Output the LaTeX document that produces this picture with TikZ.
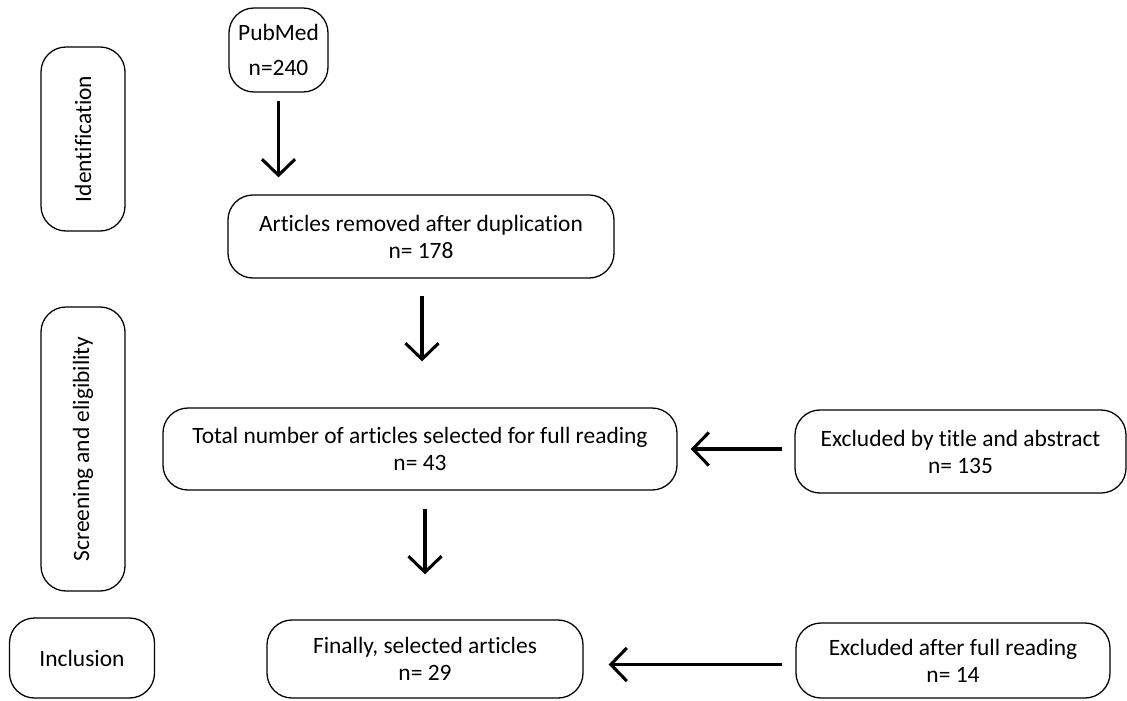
\documentclass[tikz,border=0pt]{standalone}
\usepackage{fontspec}
\setmainfont[Ligatures=NoCommon]{Carlito}
\usetikzlibrary{arrows.meta}
\begin{document}
\begin{tikzpicture}[x=0.03cm,y=-0.03cm,
    box/.style={draw,line width=1.1pt,rounded corners=0.75cm,align=center,
        font=\fontsize{20}{23}\selectfont,inner sep=0pt},
    arr/.style={line width=2.6pt,-{Straight Barb[length=0.48cm,width=0.99cm]}}]
            \useasboundingbox(0,0)rectangle(1127,700);
            \node[box,minimum width=2.97cm,minimum height=2.52cm](pubmed)at(278.5,50){PubMed\\[7pt]n=240};
            \node[box,minimum width=2.52cm,minimum height=5.52cm](ident)at(83,139){\rotatebox{90}{Identification}};
            \node[box,minimum width=11.58cm,minimum height=2.49cm](removed)at(421,236.5){Articles removed after duplication\\n= 178};
            \node[box,minimum width=2.52cm,minimum height=8.52cm](screen)at(83,449){\rotatebox{90}{Screening and eligibility}};
            \node[box,minimum width=15.42cm,minimum height=2.46cm](total)at(420,449){Total number of articles selected for full reading\\n= 43};
            \node[box,minimum width=9.93cm,minimum height=2.49cm](extitle)at(960.5,451.5){Excluded by title and abstract\\n= 135};
            \node[box,minimum width=4.35cm,minimum height=2.4cm](incl)at(82,658){Inclusion};
            \node[box,minimum width=9.48cm,minimum height=2.34cm](final)at(425,659){Finally, selected articles\\n= 29};
            \node[box,minimum width=9.42cm,minimum height=2.25cm](exfull)at(953,660.5){Excluded after full reading\\n= 14};
            \draw[arr,shorten <=0.24cm,shorten >=0.51cm](pubmed.south)--(pubmed.south|-removed.north);
            \draw[arr,shorten <=0.51cm,shorten >=1.38cm]([xshift=0.03cm]removed.south)--([xshift=0.03cm]removed.south|-total.north);
            \draw[arr,shorten <=0.36cm,shorten >=0.39cm](extitle.west|-total.east)--(total.east);
            \draw[arr,shorten <=0.54cm,shorten >=1.35cm]([xshift=0.15cm]total.south)--([xshift=0.15cm]total.south|-final.north);
            \draw[arr,shorten <=0.39cm,shorten >=0.75cm]([yshift=-0.12cm]exfull.west)--([yshift=-0.12cm]exfull.west-|final.east);
        \end{tikzpicture}
\end{document}
